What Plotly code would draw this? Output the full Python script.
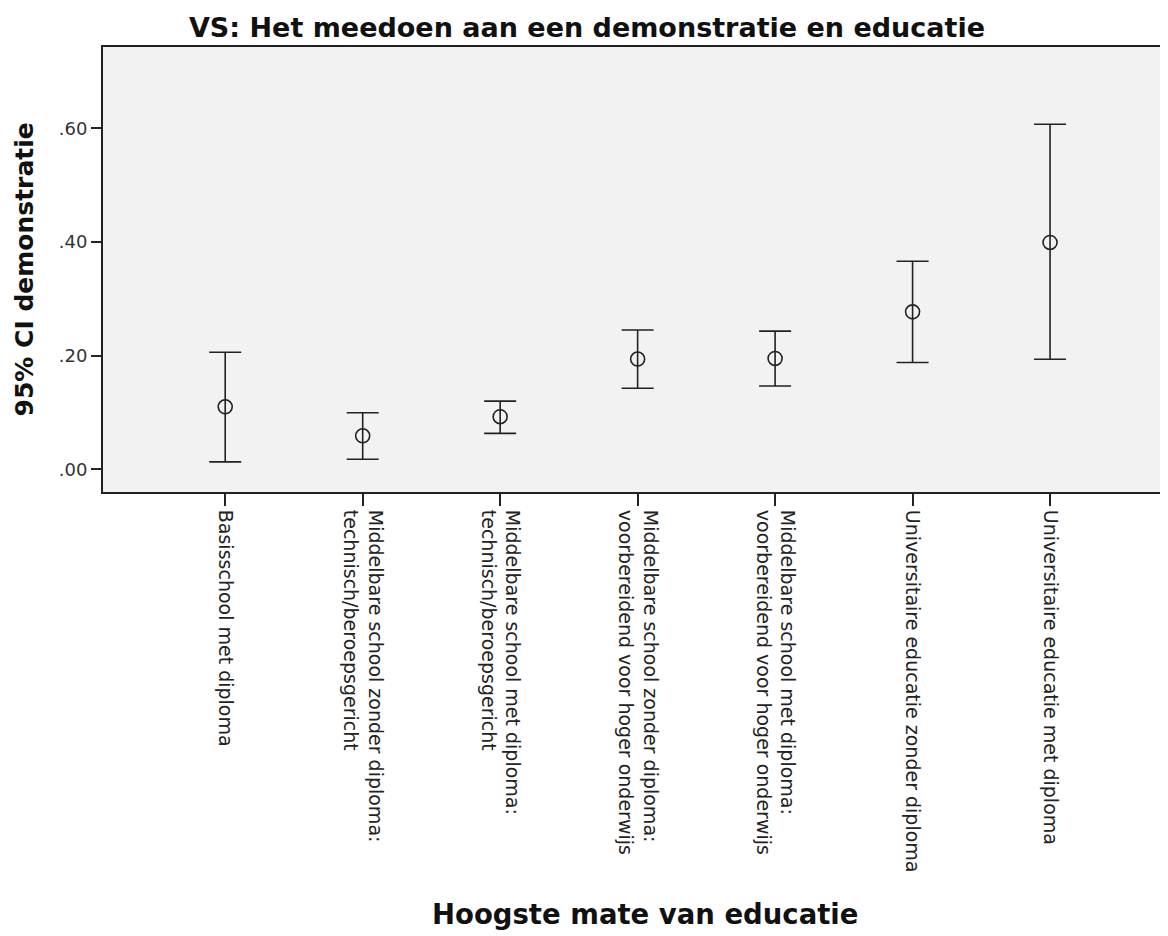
import plotly.graph_objects as go

categories = [
    "Basisschool met diploma",
    "Middelbare school zonder diploma:<br>technisch/beroepsgericht",
    "Middelbare school met diploma:<br>technisch/beroepsgericht",
    "Middelbare school zonder diploma:<br>voorbereidend voor hoger onderwijs",
    "Middelbare school met diploma:<br>voorbereidend voor hoger onderwijs",
    "Universitaire educatie zonder diploma",
    "Universitaire educatie met diploma",
]
means = [0.110, 0.059, 0.0925, 0.194, 0.195, 0.277, 0.399]
lower = [0.013, 0.0176, 0.0633, 0.1425, 0.1465, 0.188, 0.1935]
upper = [0.206, 0.0996, 0.120, 0.245, 0.243, 0.366, 0.607]
y_tickvals = [0.0, 0.2, 0.4, 0.6]
y_ticktext = [".00", ".20", ".40", ".60"]

err_plus = [u - m for u, m in zip(upper, means)]
err_minus = [m - l for m, l in zip(means, lower)]

FONT = "DejaVu Sans"
W, H = 1160, 928
L, T, B_EDGE = 95, 39, 484  # plot area in figure pixels
PW, PH = W - L, B_EDGE - T

fig = go.Figure()
fig.add_trace(go.Scatter(
    x=list(range(len(categories))), y=means, mode="markers",
    marker=dict(symbol="circle-open", size=14, color="#222222", line=dict(width=1.6, color="#222222")),
    error_y=dict(type="data", symmetric=False, array=err_plus, arrayminus=err_minus,
                 color="#222222", thickness=1.6, width=16),
    showlegend=False, hoverinfo="skip",
))

fig.update_layout(
    width=W, height=H,
    margin=dict(l=L, r=0, t=T, b=H - B_EDGE, autoexpand=False),
    paper_bgcolor="white", plot_bgcolor="#f2f2f2",
    title=dict(text="VS: Het meedoen aan een demonstratie en educatie", x=579 / W, xanchor="center",
               y=1 - 20 / H, yanchor="middle",
               font=dict(family=FONT, size=27, color="#111111", weight="bold")),
    font=dict(family=FONT, color="#222222"),
)
fig.update_xaxes(
    range=[-0.889, 6.858], tickmode="array", tickvals=list(range(len(categories))), ticktext=categories,
    tickangle=90, ticks="outside", ticklen=12, tickwidth=1.6, tickcolor="#222222",
    showline=True, linecolor="#222222", linewidth=2, mirror=True, showgrid=False, zeroline=False,
    tickfont=dict(family=FONT, size=19, color="#222222"),
)
fig.update_yaxes(
    range=[-0.0399, 0.7428], tickmode="array", tickvals=y_tickvals, ticktext=y_ticktext,
    ticks="outside", ticklen=10, tickwidth=1.6, tickcolor="#222222",
    showline=True, linecolor="#222222", linewidth=2, showgrid=False, zeroline=False,
    tickfont=dict(family=FONT, size=18, color="#333333"),
)
fig.add_annotation(text="Hoogste mate van educatie", xref="paper", yref="paper",
                   x=(637 - L) / PW, y=-(906 - B_EDGE) / PH,
                   xanchor="center", yanchor="middle", showarrow=False,
                   font=dict(family=FONT, size=27.5, color="#111111", weight="bold"))
fig.add_annotation(text="95% CI demonstratie", xref="paper", yref="paper",
                   x=-(L - 16) / PW, y=0.5, textangle=-90,
                   xanchor="center", yanchor="middle", showarrow=False,
                   font=dict(family=FONT, size=25, color="#111111", weight="bold"))

fig.write_html("out.html")
